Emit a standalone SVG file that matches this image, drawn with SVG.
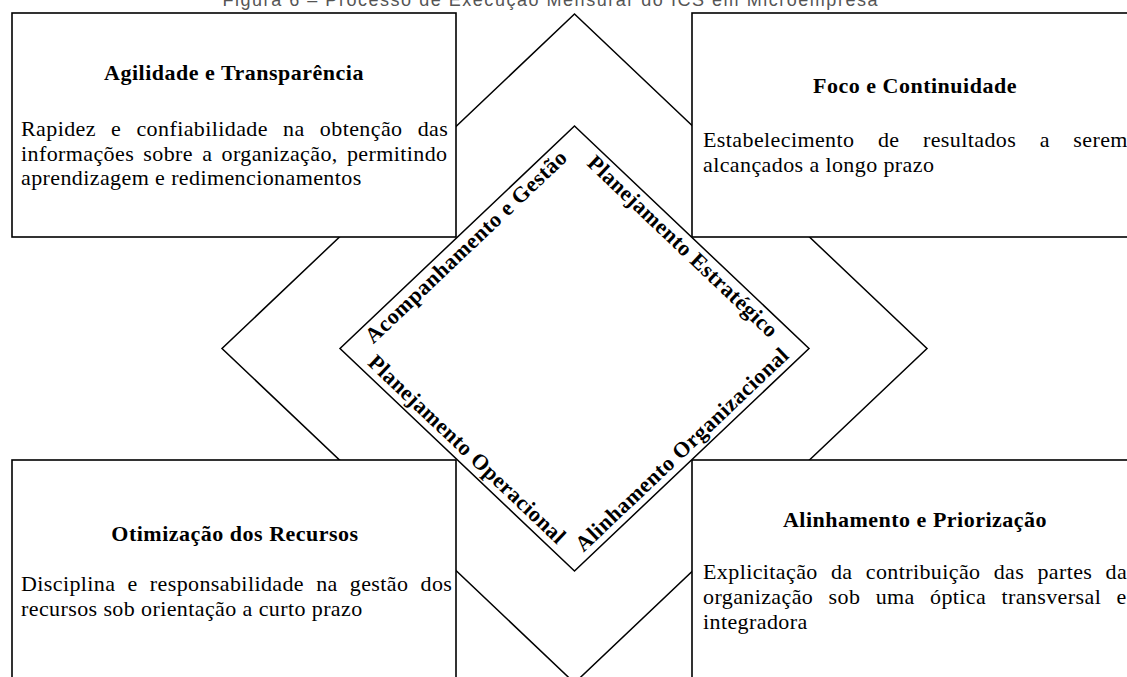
<svg xmlns="http://www.w3.org/2000/svg" width="1127" height="677" viewBox="0 0 1127 677">
<style>
  .ln { fill: none; stroke: #000; stroke-width: 1.5; stroke-linejoin: miter; }
  .box { fill: #fff; stroke: #000; stroke-width: 1.6; }
  .ttl { font-family: "Liberation Serif", "Times New Roman", serif; font-weight: bold; font-size: 22px; letter-spacing: 0.5px; text-anchor: middle; fill: #000; }
  .bd { font-family: "Liberation Serif", "Times New Roman", serif; font-size: 22px; letter-spacing: 0.4px; fill: #000; }
  .lbl { font-family: "Liberation Serif", "Times New Roman", serif; font-weight: bold; font-size: 22px; letter-spacing: 0.5px; text-anchor: middle; fill: #000; }
  .hdr { font-family: "Liberation Sans", Arial, sans-serif; font-size: 18px; fill: #555; text-anchor: middle; }
</style>
<rect width="1127" height="677" fill="#fff"/>
<text class="hdr" x="550" y="6" textLength="655" lengthAdjust="spacing">Figura 6 – Processo de Execução Mensurar do ICS em Microempresa</text>

<g id="outer-diamond">
  <polygon class="ln" points="574.5,14 927,348.5 574.5,683 222,348.5"/>
</g>

<g id="node-agilidade">
  <rect class="box" x="12" y="13" width="444" height="224"/>
  <text class="ttl" x="234" y="80">Agilidade e Transparência</text>
  <text class="bd" x="21" y="136" style="word-spacing:9.3px">Rapidez e confiabilidade na obtenção das</text>
  <text class="bd" x="21" y="160.5" style="word-spacing:3.3px">informações sobre a organização, permitindo</text>
  <text class="bd" x="21" y="185">aprendizagem e redimencionamentos</text>
</g>

<g id="node-foco">
  <rect class="box" x="692" y="13" width="444" height="224"/>
  <text class="ttl" x="915" y="93">Foco e Continuidade</text>
  <text class="bd" x="703" y="147" style="word-spacing:17.6px">Estabelecimento de resultados a serem</text>
  <text class="bd" x="703" y="172">alcançados a longo prazo</text>
</g>

<g id="node-otimizacao">
  <rect class="box" x="12" y="460" width="444" height="240"/>
  <text class="ttl" x="235" y="541">Otimização dos Recursos</text>
  <text class="bd" x="21" y="591" style="word-spacing:6.2px">Disciplina e responsabilidade na gestão dos</text>
  <text class="bd" x="21" y="616">recursos sob orientação a curto prazo</text>
</g>

<g id="node-alinhamento">
  <rect class="box" x="692" y="460" width="444" height="240"/>
  <text class="ttl" x="915" y="527">Alinhamento e Priorização</text>
  <text class="bd" x="703" y="579" style="word-spacing:7.3px">Explicitação da contribuição das partes da</text>
  <text class="bd" x="703" y="604" style="word-spacing:9.4px">organização sob uma óptica transversal e</text>
  <text class="bd" x="703" y="629">integradora</text>
</g>

<g id="inner-diamond">
  <polygon class="ln" style="fill:#fff" points="574.5,126 809,348.5 574.5,571 340,348.5"/>
  <g transform="translate(457.25,237.25) rotate(-43.5)">
    <text class="lbl" x="0" y="20">Acompanhamento e Gestão</text>
  </g>
  <g transform="translate(691.75,237.25) rotate(43.5)">
    <text class="lbl" x="0" y="20">Planejamento Estratégico</text>
  </g>
  <g transform="translate(457.25,459.75) rotate(43.5)">
    <text class="lbl" x="0" y="-7">Planejamento Operacional</text>
  </g>
  <g transform="translate(691.75,459.75) rotate(-43.5)">
    <text class="lbl" x="0" y="-7">Alinhamento Organizacional</text>
  </g>
</g>

<g id="connectors"></g>
</svg>
